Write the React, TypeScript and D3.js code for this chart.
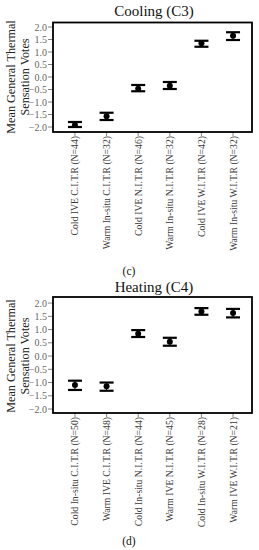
import React from "react";
import * as d3 from "d3";

const coolCats = ["Cold IVE C.I.T.R (N=44)", "Warm In-situ C.I.T.R (N=32)", "Cold IVE N.I.T.R (N=46)", "Warm In-situ N.I.T.R (N=32)", "Cold IVE W.I.T.R (N=42)", "Warm In-situ W.I.T.R (N=32)"];
const coolMean = [-1.92, -1.57, -0.47, -0.35, 1.35, 1.65];
const coolLow = [-2.0, -1.72, -0.57, -0.48, 1.21, 1.48];
const coolHigh = [-1.8, -1.43, -0.32, -0.2, 1.45, 1.79];

const heatCats = ["Cold In-situ C.I.T.R (N=50)", "Warm IVE C.I.T.R (N=48)", "Cold In-situ N.I.T.R (N=44)", "Warm IVE N.I.T.R (N=45)", "Cold In-situ W.I.T.R (N=28)", "Warm IVE W.I.T.R (N=21)"];
const heatMean = [-1.09, -1.14, 0.84, 0.54, 1.68, 1.63];
const heatLow = [-1.28, -1.31, 0.72, 0.39, 1.56, 1.46];
const heatHigh = [-0.93, -1.0, 0.98, 0.69, 1.81, 1.78];

const yTicks = [2.0, 1.5, 1.0, 0.5, 0.0, -0.5, -1.0, -1.5, -2.0];

const FONT = "Liberation Serif, Times New Roman, Times, serif";

function Panel({ title, cats, mean, low, high, top, bottom, domain, titleY, tag, tagY }: any) {
  const left = 53, right = 252;
  const x = d3.scalePoint<string>().domain(cats).range([left + 3, right]).padding(0.6);
  const y = d3.scaleLinear().domain(domain).range([bottom, top]);
  const midY = y(0);
  return (
    <g style={{ fontFamily: FONT }}>
      <text x={154} y={titleY} textAnchor="middle" fontSize={15} fill="#111">{title}</text>
      <text transform={`translate(14.5,${midY}) rotate(-90)`} textAnchor="middle" fontSize={12.2} fill="#222">Mean General Thermal</text>
      <text transform={`translate(29,${midY}) rotate(-90)`} textAnchor="middle" fontSize={12.2} fill="#222">Sensation Votes</text>
      {yTicks.map((t) => (
        <g key={t}>
          <line x1={left - 5} x2={left} y1={y(t)} y2={y(t)} stroke="#666" strokeWidth={0.8} />
          <text x={left - 6} y={y(t)} dy="0.35em" textAnchor="end" fontSize={10} fill="#666">{d3.format(".1f")(t)}</text>
        </g>
      ))}
      {cats.map((c: string) => (
        <g key={c}>
          <line x1={x(c)!} x2={x(c)!} y1={bottom} y2={bottom + 4} stroke="#666" strokeWidth={0.8} />
          <text transform={`translate(${x(c)! + 3.5},${bottom + 4}) rotate(-90)`} textAnchor="end" fontSize={9.7} fill="#3a3a3a">{c}</text>
        </g>
      ))}
      {cats.map((c: string, i: number) => {
        const cx = x(c)!;
        return (
          <g key={"e" + c}>
            <line x1={cx} x2={cx} y1={y(low[i])} y2={y(high[i])} stroke="#000" strokeWidth={1} />
            <line x1={cx - 7} x2={cx + 7} y1={y(low[i])} y2={y(low[i])} stroke="#000" strokeWidth={2.2} />
            <line x1={cx - 7} x2={cx + 7} y1={y(high[i])} y2={y(high[i])} stroke="#000" strokeWidth={2.2} />
            <circle cx={cx} cy={y(mean[i])} r={3} fill="#000" />
          </g>
        );
      })}
      <rect x={left} y={top} width={right - left} height={bottom - top} fill="none" stroke="#000" strokeWidth={1.8} />
      <text x={129} y={tagY} textAnchor="middle" fontSize={11.5} fill="#111">{tag}</text>
    </g>
  );
}

export default function App() {
  return (
    <svg width={259} height={550} style={{ position: "absolute", left: 0, top: 0, background: "#fff" }}>
      <rect width={259} height={550} fill="#fff" />
      <Panel title="Cooling (C3)" cats={coolCats} mean={coolMean} low={coolLow} high={coolHigh}
        top={22.5} bottom={132} domain={[-2.2, 2.18]} titleY={16} tag="(c)" tagY={275} />
      <Panel title="Heating (C4)" cats={heatCats} mean={heatMean} low={heatLow} high={heatHigh}
        top={297} bottom={413} domain={[-2.15, 2.23]} titleY={292} tag="(d)" tagY={545} />
    </svg>
  );
}
